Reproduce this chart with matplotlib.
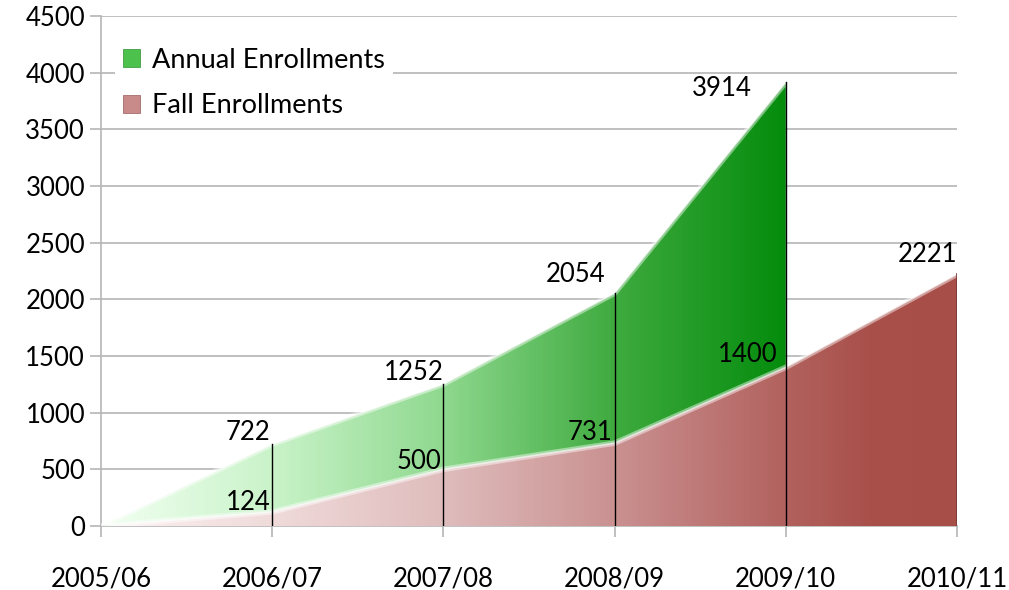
import numpy as np
import matplotlib.pyplot as plt
from matplotlib.colors import LinearSegmentedColormap
from matplotlib.patches import Patch

years = ['2005/06', '2006/07', '2007/08', '2008/09', '2009/10', '2010/11']
annual = [0, 722, 1252, 2054, 3914]
fall = [0, 124, 500, 731, 1400, 2221]

# label nudges in pixels (dx, dy), labels sit right-aligned on the point
annual_off = [None, (-2, 4), (0, 4), (-9, 11), (-34, -14)]
fall_off = [None, (-2, 2), (-2, 0), (-2, 3), (-8, 5), (0, 12)]

green_cmap = LinearSegmentedColormap.from_list('g', [
    (0.0, '#f2fff2'), (0.25, '#c9f3c9'), (0.5, '#8fd88f'),
    (0.75, '#3fab3f'), (1.0, '#058c0d')])
red_cmap = LinearSegmentedColormap.from_list('r', [
    (0.0, '#fcf2f2'), (0.2, '#f0dada'), (0.4, '#dfbcbc'),
    (0.6, '#ca9191'), (0.8, '#b2625e'), (0.9, '#a9504b'), (1.0, '#a84e49')])

plt.rcParams['font.family'] = ['Lato', 'DejaVu Sans']

fig = plt.figure(figsize=(10.09, 5.90), dpi=100)
ax = fig.add_axes([101 / 1009, 1 - 526 / 590, 856 / 1009, 510 / 590])

ax.set_xlim(0, 5)
ax.set_ylim(0, 4500)
ax.set_yticks(np.arange(0, 4501, 500))
ax.yaxis.grid(True, color='#b5b5b5', lw=1.2, zorder=0)
ax.set_axisbelow(True)
for s in ['top', 'right']:
    ax.spines[s].set_visible(False)
for s in ['left', 'bottom']:
    ax.spines[s].set_color('#b5b5b5')
    ax.spines[s].set_linewidth(1.2)
ax.tick_params(colors='#b5b5b5', length=8, width=1.2, labelcolor='black',
               labelsize=18.5)
ax.tick_params(axis='x', pad=21)
ax.set_xticks(range(len(years)))
ax.set_xticklabels(years)


def gradient_area(xs, ys, cmap, z):
    poly = ax.fill_between(xs, 0, ys, color='none', lw=0, zorder=z)
    grad = np.linspace(0, 1, 400).reshape(1, -1)
    im = ax.imshow(grad, cmap=cmap, aspect='auto', extent=[xs[0], xs[-1], 0, 4500],
                   origin='lower', zorder=z)
    im.set_clip_path(poly.get_paths()[0], transform=ax.transData)
    # bevel highlight along the top edge
    ax.plot(xs, ys, color='white', lw=4, alpha=0.45, zorder=z + 0.1,
            solid_capstyle='butt')
    ax.plot(xs, ys, color='white', lw=1.2, alpha=0.6, zorder=z + 0.1)


xa = np.arange(len(annual))
xf = np.arange(len(fall))
gradient_area(xa, annual, green_cmap, 2)
gradient_area(xf, fall, red_cmap, 3)
ax.plot([xf[-1], xf[-1]], [0, fall[-1]], color='#7a3a36', lw=1.2, zorder=3.2)

# drop lines
for i in range(1, len(annual)):
    ax.plot([i, i], [0, max(annual[i], fall[i])], color='black', lw=1, zorder=4)

for i, v in enumerate(annual):
    if annual_off[i] is None:
        continue
    ax.annotate(str(v), (i, v), xytext=annual_off[i], textcoords='offset pixels',
                ha='right', va='baseline', fontsize=18.5, zorder=6)
for i, v in enumerate(fall):
    if fall_off[i] is None:
        continue
    ax.annotate(str(v), (i, v), xytext=fall_off[i], textcoords='offset pixels',
                ha='right', va='baseline', fontsize=18.5, zorder=6)

handles = [Patch(facecolor='#4cc24c', edgecolor='#2e8f2e', lw=0.5),
           Patch(facecolor='#c98a8a', edgecolor='#9c5a5a', lw=0.5)]
leg = ax.legend(handles, ['Annual Enrollments', 'Fall Enrollments'],
                loc='upper left', bbox_to_anchor=(0.0, 0.98), fontsize=19.5,
                frameon=True, framealpha=1, facecolor='white', edgecolor='none',
                handlelength=0.65, handleheight=0.65, handletextpad=0.45,
                labelspacing=0.75, borderpad=0.3, fancybox=False)
leg.set_zorder(7)

fig.savefig('out.png', dpi=100)
